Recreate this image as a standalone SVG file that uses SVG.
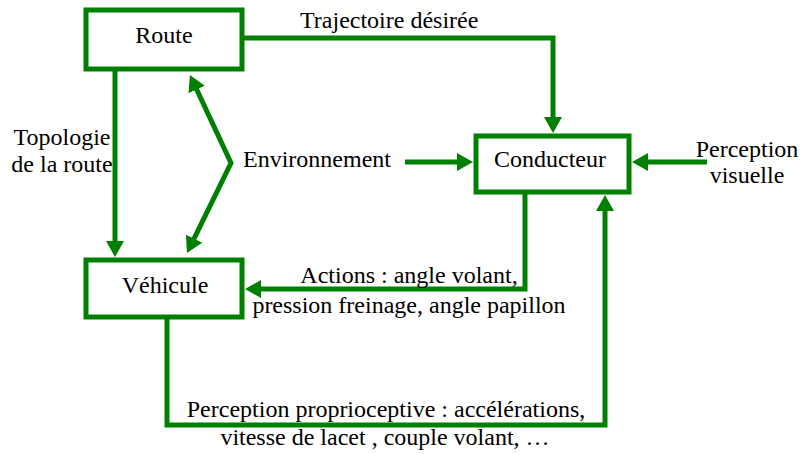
<svg xmlns="http://www.w3.org/2000/svg" width="800" height="454" viewBox="0 0 800 454">
  <style>
    .box { fill: #ffffff; stroke: #008000; stroke-width: 5; }
    .wire { fill: none; stroke: #008000; stroke-width: 5; stroke-linejoin: miter; }
    .arr { marker-end: url(#head); }
    .lbl { font-family: 'Liberation Serif', 'DejaVu Serif', serif; font-size: 24px; fill: #000000; }
    .mid { text-anchor: middle; }
  </style>
  <defs>
    <marker id="head" viewBox="0 0 16 18" refX="8" refY="9" markerWidth="16" markerHeight="18" markerUnits="userSpaceOnUse" orient="auto-start-reverse">
      <path d="M0,0 L16,9 L0,18 z" fill="#008000"/>
    </marker>
  </defs>

  <rect width="800" height="454" fill="#ffffff"/>

  <g id="connectors">
    <!-- Route -> Conducteur (desired trajectory) -->
    <path class="wire arr" d="M242,38 H553 V125"/>
    <!-- Route -> Vehicule (road topology) -->
    <path class="wire arr" d="M115,69 V249"/>
    <!-- Environment acting on road and vehicle -->
    <path class="wire" d="M193.3,82.3 L231,163 L190.5,245.8" marker-start="url(#head)" marker-end="url(#head)"/>
    <!-- Environment -> Conducteur -->
    <path class="wire arr" d="M405,162 H465"/>
    <!-- Visual perception -> Conducteur -->
    <path class="wire arr" d="M707,162 H640"/>
    <!-- Conducteur -> Vehicule (actions) -->
    <path class="wire arr" d="M525,192 V289 H253"/>
    <!-- Vehicule -> Conducteur (proprioceptive perception) -->
    <path class="wire arr" d="M167,317 V425 H605 V203"/>
  </g>

  <g id="route">
    <rect class="box" x="86" y="10" width="156" height="59"/>
    <text class="lbl mid" x="164" y="43">Route</text>
  </g>

  <g id="vehicule">
    <rect class="box" x="86" y="260" width="156" height="57"/>
    <text class="lbl mid" x="165" y="293">Véhicule</text>
  </g>

  <g id="conducteur">
    <rect class="box" x="476" y="136" width="153" height="56"/>
    <text class="lbl mid" x="550" y="167">Conducteur</text>
  </g>

  <g id="labels">
    <text class="lbl" x="300" y="28">Trajectoire désirée</text>
    <text class="lbl mid" x="62" y="145">Topologie</text>
    <text class="lbl mid" x="62" y="172">de la route</text>
    <text class="lbl" x="243" y="167">Environnement</text>
    <text class="lbl mid" x="747" y="157">Perception</text>
    <text class="lbl mid" x="747" y="183">visuelle</text>
    <text class="lbl mid" x="409" y="283">Actions : angle volant,</text>
    <text class="lbl mid" x="409" y="313">pression freinage, angle papillon</text>
    <text class="lbl mid" x="386" y="417">Perception proprioceptive : accélérations,</text>
    <text class="lbl mid" x="385" y="445">vitesse de lacet , couple volant, …</text>
  </g>
</svg>
